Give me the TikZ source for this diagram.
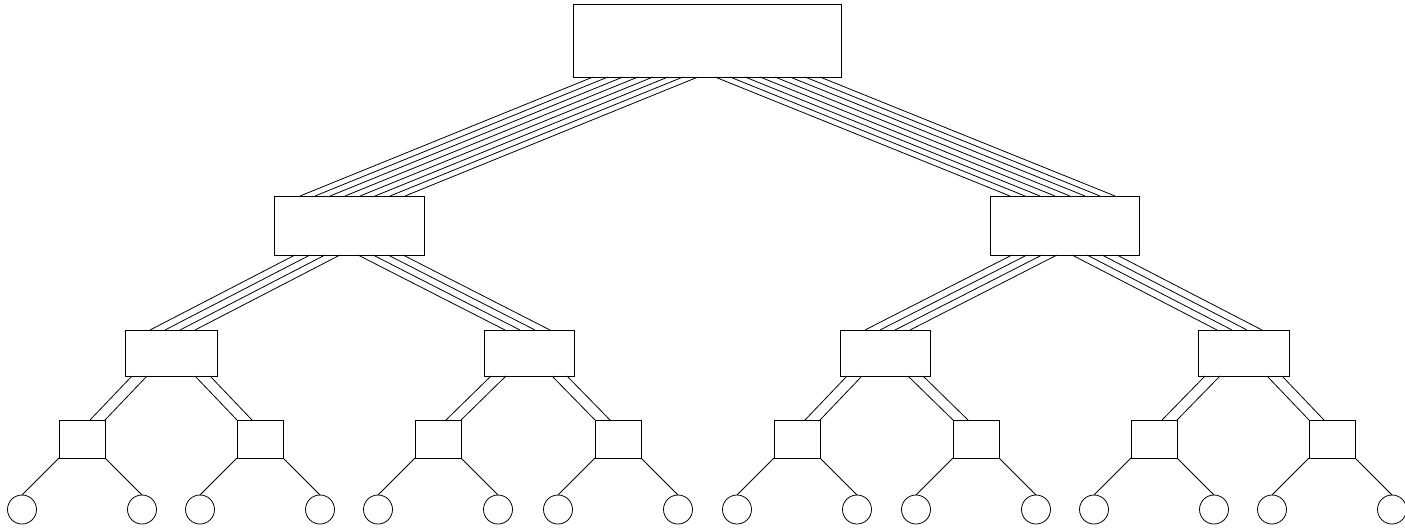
\documentclass[tikz,border=0pt]{standalone}
\begin{document}
\begin{tikzpicture}[x=1pt,y=-1pt,line width=0.8pt,
  box/.style={draw, rectangle, inner sep=0pt, outer sep=0pt, anchor=north west},
  leaf/.style={draw, circle, inner sep=0pt, outer sep=0pt, minimum size=29pt, anchor=north},
  link/.style={line width=0.8pt}]
\useasboundingbox (0,0) rectangle (1405,528);
% root
\node[box, minimum width=268pt, minimum height=73pt] (t) at (573,4) {};
% level 1
\node[box, minimum width=150pt, minimum height=59pt] (a1) at (274,196) {};
\node[box, minimum width=149pt, minimum height=59pt] (a2) at (990,196) {};
% level 2
\node[box, minimum width=92pt, minimum height=46pt] (b1) at (125,330) {};
\node[box, minimum width=90pt, minimum height=46pt] (b2) at (484,330) {};
\node[box, minimum width=90pt, minimum height=46pt] (b3) at (840,330) {};
\node[box, minimum width=91pt, minimum height=46pt] (b4) at (1198,330) {};
% level 3
\foreach \l [count=\i] in {59,237,415,595,774,953,1131,1309}
  \node[box, minimum width=46pt, minimum height=38pt] (c\i) at (\l,420) {};
% leaves
\foreach \i in {1,...,8} {
  \node[leaf] (dl\i) at ([xshift=-37pt, yshift=-37pt]c\i.south west) {};
  \node[leaf] (dr\i) at ([xshift=37pt, yshift=-37pt]c\i.south east) {};
}
% root -> level 1 (8 links each)
\foreach \j in {0,...,7} {
  \draw[link] ([xshift=20pt+\j*15pt]t.south west) -- ([xshift=26pt+\j*15pt]a1.north west);
  \draw[link] ([xshift=142pt+\j*15pt]t.south west) -- ([xshift=20pt+\j*15pt]a2.north west);
}
% level 1 -> level 2 (4 links each)
\foreach \j in {0,...,3} {
  \draw[link] ([xshift=21pt+\j*15pt]a1.south west) -- ([xshift=25pt+\j*15pt]b1.north west);
  \draw[link] ([xshift=84pt+\j*15pt]a1.south west) -- ([xshift=21pt+\j*15pt]b2.north west);
  \draw[link] ([xshift=22pt+\j*15pt]a2.south west) -- ([xshift=25pt+\j*15pt]b3.north west);
  \draw[link] ([xshift=82pt+\j*15pt]a2.south west) -- ([xshift=19pt+\j*15pt]b4.north west);
}
% level 2 -> level 3 (2 links each)
\foreach \k [evaluate=\k as \l using int(2*\k-1), evaluate=\k as \r using int(2*\k)] in {1,...,4} {
  \foreach \j in {0,1} {
    \draw[link] ([xshift=7pt+\j*15pt]b\k.south west) -- ([xshift=-15pt+\j*15pt]c\l.north east);
    \draw[link] ([xshift=-22pt+\j*15pt]b\k.south east) -- ([xshift=\j*15pt]c\r.north west);
  }
}
% level 3 -> leaves
\foreach \i in {1,...,8} {
  \draw[link] (c\i.south west) -- (dl\i.north);
  \draw[link] (c\i.south east) -- (dr\i.north);
}
\end{tikzpicture}
\end{document}
